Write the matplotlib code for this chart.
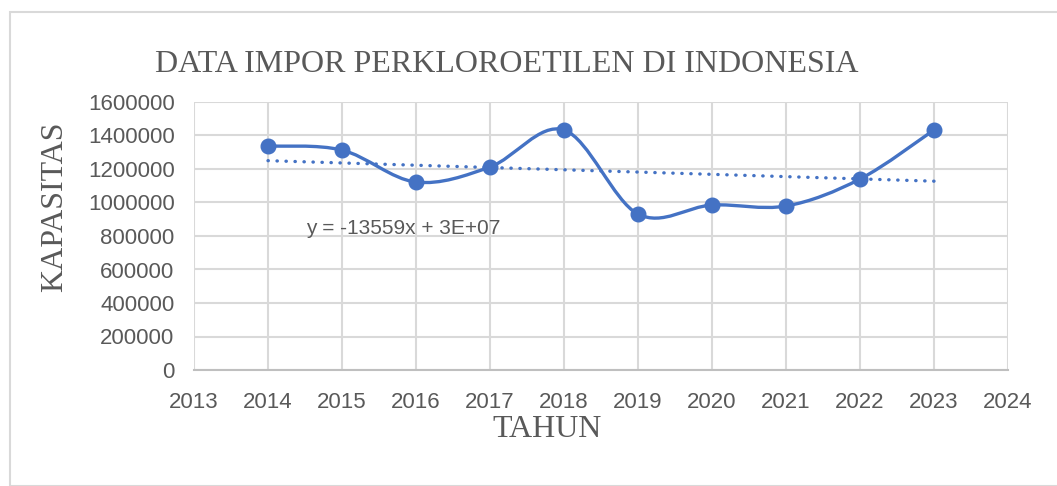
import numpy as np
import matplotlib.pyplot as plt
from matplotlib.path import Path
from matplotlib.patches import PathPatch, Rectangle

# data
tahun = [2014, 2015, 2016, 2017, 2018, 2019, 2020, 2021, 2022, 2023]
kapasitas = [1337000, 1313000, 1122000, 1212000, 1433000, 931000, 985000, 979000, 1140000, 1433000]
y_ticks = [0, 200000, 400000, 600000, 800000, 1000000, 1200000, 1400000, 1600000]
x_ticks = list(range(2013, 2025))
equation = "y = -13559x + 3E+07"

blue = "#4472C4"
grey_text = "#595959"
grid_col = "#D9D9D9"

plt.rcParams['font.family'] = ['Liberation Sans Narrow', 'Liberation Sans', 'DejaVu Sans']


# smooth line like Excel: bezier segments through every point
def smooth_path(x, y, t=1/6):
    x = np.asarray(x, float)
    y = np.asarray(y, float)
    n = len(x)
    verts = [(x[0], y[0])]
    codes = [Path.MOVETO]
    for i in range(n - 1):
        x0, y0 = (x[i-1], y[i-1]) if i > 0 else (x[i], y[i])
        x3, y3 = (x[i+2], y[i+2]) if i + 2 < n else (x[i+1], y[i+1])
        c1 = (x[i] + t * (x[i+1] - x0), y[i] + t * (y[i+1] - y0))
        c2 = (x[i+1] - t * (x3 - x[i]), y[i+1] - t * (y3 - y[i]))
        verts += [c1, c2, (x[i+1], y[i+1])]
        codes += [Path.CURVE4] * 3
    return Path(verts, codes)


fig = plt.figure(figsize=(10.57, 4.86), dpi=100)
fig.patches.append(Rectangle((10/1057, 0), 1.0, (486-12)/486, transform=fig.transFigure,
                             fill=False, edgecolor="#D9D9D9", linewidth=1.5))
ax = fig.add_axes([194/1057, 116/486, 814/1057, 268/486])

# smoothed series + markers
ax.add_patch(PathPatch(smooth_path(tahun, kapasitas), facecolor="none",
                       edgecolor=blue, linewidth=2.4, zorder=3))
ax.plot(tahun, kapasitas, linestyle="none", marker="o", markersize=10.5,
        color=blue, zorder=4)

# linear trend
coef = np.polyfit(tahun, kapasitas, 1)
tx = np.array([tahun[0], tahun[-1]])
ax.plot(tx, np.polyval(coef, tx), color=blue, linewidth=2.4,
        linestyle=(0, (0.1, 2.6)), dash_capstyle="round", zorder=2)

ax.text(2014.52, 842000, equation, fontsize=15, color=grey_text, va="center",
        family=['Liberation Sans', 'DejaVu Sans'])

ax.set_xlim(2013, 2024)
ax.set_ylim(0, 1600000)
ax.set_xticks(x_ticks)
ax.set_yticks(y_ticks)
ax.set_xticklabels([str(v) for v in x_ticks])
ax.set_yticklabels([str(v) for v in y_ticks])
ax.grid(True, color=grid_col, linewidth=1.5)
ax.set_axisbelow(True)
for s in ["top", "right", "left"]:
    ax.spines[s].set_visible(False)
ax.spines["bottom"].set_color("#BFBFBF")
ax.spines["bottom"].set_linewidth(1.5)
ax.tick_params(axis="both", length=0, labelsize=16, colors=grey_text, pad=14)
ax.tick_params(axis="x", pad=16)

serif = ['Liberation Serif', 'DejaVu Serif']
fig.text(507/1057, 1 - 64/486, "DATA IMPOR PERKLOROETILEN DI INDONESIA", ha="center",
         va="center", fontsize=23, color=grey_text, family=serif)
ax.set_xlabel("TAHUN", fontsize=23, color=grey_text, family=serif)
ax.set_ylabel("KAPASITAS", fontsize=23, color=grey_text, family=serif)
ax.xaxis.set_label_coords(0.434, -0.168)
ax.yaxis.set_label_coords(-0.154, 0.608)

fig.savefig("out.png", dpi=100)
